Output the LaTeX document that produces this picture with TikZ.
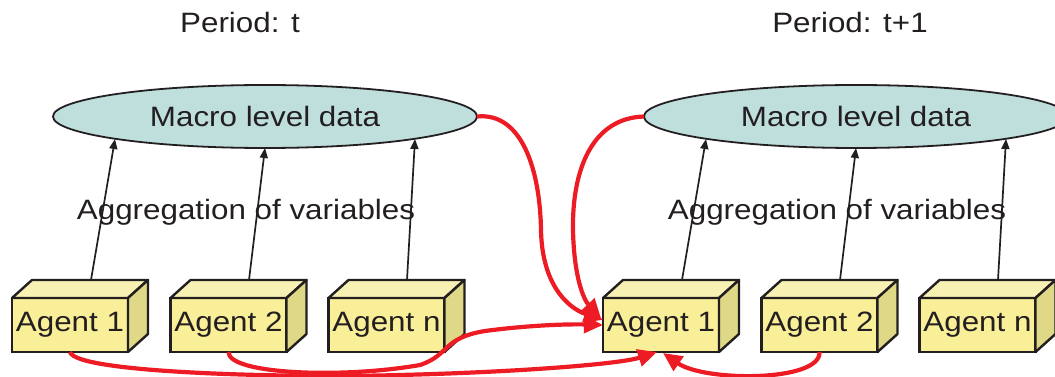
\documentclass[tikz,border=0pt]{standalone}
\usepackage{fontspec}
\setmainfont{Liberation Sans}[FakeStretch=1.12]
\usetikzlibrary{shapes.geometric,arrows.meta,calc}

\definecolor{boxfront}{HTML}{F9EF99}
\definecolor{boxtop}{HTML}{F7F2B4}
\definecolor{boxside}{HTML}{DED887}
\definecolor{macrofill}{HTML}{BFDFDD}
\definecolor{linkred}{HTML}{ED1C24}
\definecolor{ink}{HTML}{231F20}

% top and side faces of a cube whose front face is node #1
\newcommand\drawcube[1]{%
  \filldraw[cubeface,fill=boxtop] (#1.north west) -- ++(20,-18) -- ++(116,0) -- (#1.north east) -- cycle;
  \filldraw[cubeface,fill=boxside] (#1.north east) -- ++(20,-18) -- ++(0,54) -- (#1.south east) -- cycle;}

\begin{document}
\begin{tikzpicture}[x=1pt,y=-1pt,
  agent/.style={draw=ink,line width=2.4pt,fill=boxfront,minimum width=116pt,minimum height=54pt,
    inner sep=0pt,outer sep=0pt,text=ink,font=\fontsize{28}{30}\selectfont},
  cubeface/.style={draw=ink,line width=2.4pt,line join=round},
  macro/.style={ellipse,draw=ink,line width=1.8pt,fill=macrofill,minimum width=424pt,minimum height=63pt,
    inner sep=0pt,outer sep=0pt,text=ink,font=\fontsize{28}{30}\selectfont},
  label/.style={text=ink,inner sep=0pt,font=\fontsize{28}{30}\selectfont},
  agg/.style={draw=ink,line width=1.7pt,-{Triangle[length=10pt,width=8pt]}},
  link/.style={draw=linkred,line width=4.2pt,-{Triangle[length=19pt,width=17pt]}},
]
\useasboundingbox (0,0) rectangle (1055,377);
\clip (0,0) rectangle (1055,377);

% period headings
\node[label] (pt)  at (240,22) {Period: t};
\node[label] (pt1) at (850,22) {Period: t+1};

% macro level ellipses
\node[macro] (m1) at (265,116.5) {Macro level data};
\node[macro] (m2) at (856,116.5) {Macro level data};

% agents, period t
\node[agent] (a1l) at (70,325)    {Agent 1};
\node[agent] (a2l) at (228.5,325) {Agent 2};
\node[agent] (anl) at (386.5,325) {Agent n};
% agents, period t+1
\node[agent] (a1r) at (661,325)   {Agent 1};
\node[agent] (a2r) at (819.5,325) {Agent 2};
\node[agent] (anr) at (977.5,325) {Agent n};

\foreach \a in {a1l,a2l,anl,a1r,a2r,anr}{\drawcube{\a}}

% aggregation arrows from agents to macro data
\draw[agg] ($(a1l.north)+(21,-18)$) -- ($(m1.center)+(-150,22.5)$);
\draw[agg] ($(a2l.north)+(20.5,-18)$) -- (m1.south);
\draw[agg] ($(anl.north)+(20.5,-18)$) -- ($(m1.center)+(150,22.5)$);
\draw[agg] ($(a1r.north)+(21,-18)$) -- ($(m2.center)+(-150,22.5)$);
\draw[agg] ($(a2r.north)+(20.5,-18)$) -- (m2.south);
\draw[agg] ($(anr.north)+(20.5,-18)$) -- ($(m2.center)+(150,22.5)$);

\node[label] (aggl) at (246,212) {Aggregation of variables};
\node[label] (aggr) at (837,212) {Aggregation of variables};

% feedback links into period t+1
\draw[link] (m1.east) .. controls (522,112) and (540,170) .. (541,230)
  .. controls (542,285) and (568,308) .. ($(a1r.west)+(0,-5)$);
\draw[link] (m2.west) .. controls (592,118) and (572,170) .. (573,230)
  .. controls (574,278) and (584,300) .. ($(a1r.west)+(-2,-7)$);
\draw[link] (a1l.south) .. controls (76,374) and (300,378) .. (400,375)
  .. controls (520,372) and (620,364) .. ($(a1r.south)+(-4,0)$);
\draw[link] (a2l.south) .. controls (228,374) and (340,379) .. (420,365)
  .. controls (450,355) and (442,338) .. (485,331)
  .. controls (530,325) and (570,324) .. (a1r.west);
\draw[link] (a2r.south) .. controls (821,382) and (705,382) .. ($(a1r.south)+(2,1)$);
\end{tikzpicture}
\end{document}
